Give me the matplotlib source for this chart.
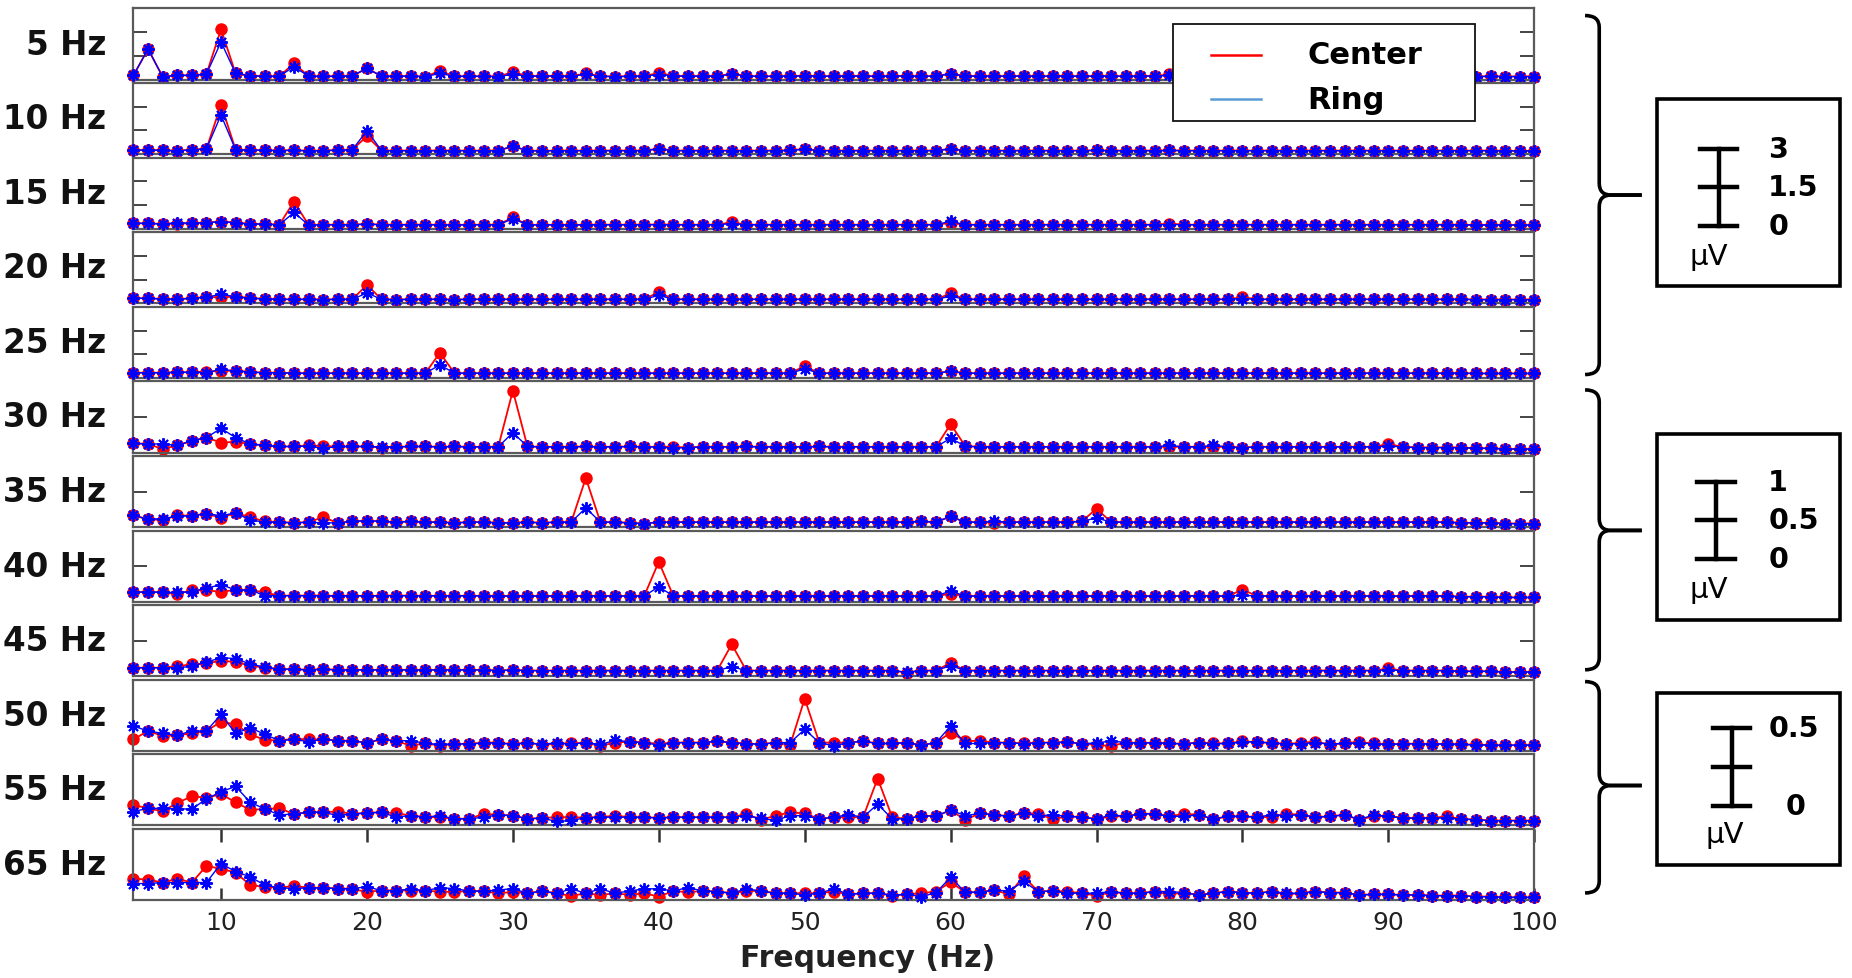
import matplotlib
matplotlib.use("Agg")
import matplotlib.pyplot as plt
from matplotlib.path import Path
from matplotlib.patches import PathPatch, Rectangle
from matplotlib.lines import Line2D

# ---------------- data ----------------
freqs = list(range(4, 101))
panel_labels = ["5 Hz", "10 Hz", "15 Hz", "20 Hz", "25 Hz", "30 Hz",
                "35 Hz", "40 Hz", "45 Hz", "50 Hz", "55 Hz", "65 Hz"]
xticks = [10, 20, 30, 40, 50, 60, 70, 80, 90, 100]
x_label = "Frequency (Hz)"
legend_labels = ["Center", "Ring"]
legend_colors = ["#ff0000", "#5b9bd5"]
group_ylim = [3.0, 3.0, 3.0, 3.0, 3.0, 1.0, 1.0, 1.0, 1.0, 0.5, 0.5, 0.5]
group_yticks = [[1, 2]] * 5 + [[0.5]] * 4 + [[]] * 3
scale_labels = [["3", "1.5", "0"], ["1", "0.5", "0"], ["0.5", "", "0"]]

c5 = [0.18, 1.29, 0.12, 0.18, 0.18, 0.23, 2.12, 0.26, 0.16, 0.14,
      0.14, 0.69, 0.14, 0.14, 0.14, 0.15, 0.48, 0.14, 0.14, 0.15,
      0.12, 0.37, 0.14, 0.14, 0.14, 0.13, 0.32, 0.15, 0.15, 0.15,
      0.14, 0.26, 0.14, 0.13, 0.14, 0.15, 0.28, 0.16, 0.14, 0.15,
      0.14, 0.25, 0.15, 0.14, 0.14, 0.15, 0.16, 0.15, 0.14, 0.15,
      0.15, 0.14, 0.15, 0.15, 0.14, 0.15, 0.25, 0.15, 0.15, 0.14,
      0.15, 0.15, 0.14, 0.15, 0.15, 0.14, 0.15, 0.15, 0.14, 0.15,
      0.15, 0.22, 0.15, 0.14, 0.15, 0.15, 0.14, 0.15, 0.15, 0.14,
      0.15, 0.15, 0.14, 0.15, 0.14, 0.14, 0.15, 0.14, 0.14, 0.14,
      0.14, 0.14, 0.13, 0.14, 0.13, 0.13, 0.13]
r5 = [0.18, 1.29, 0.12, 0.18, 0.18, 0.23, 1.59, 0.26, 0.16, 0.14,
      0.14, 0.55, 0.14, 0.14, 0.14, 0.15, 0.48, 0.14, 0.14, 0.15,
      0.13, 0.26, 0.14, 0.14, 0.14, 0.13, 0.22, 0.15, 0.15, 0.15,
      0.14, 0.22, 0.14, 0.13, 0.14, 0.15, 0.21, 0.16, 0.14, 0.15,
      0.14, 0.23, 0.15, 0.14, 0.14, 0.15, 0.15, 0.15, 0.14, 0.15,
      0.15, 0.14, 0.15, 0.15, 0.14, 0.15, 0.24, 0.15, 0.15, 0.14,
      0.15, 0.15, 0.14, 0.15, 0.15, 0.14, 0.15, 0.15, 0.14, 0.15,
      0.15, 0.18, 0.15, 0.14, 0.15, 0.15, 0.14, 0.15, 0.15, 0.14,
      0.15, 0.15, 0.14, 0.15, 0.14, 0.14, 0.15, 0.14, 0.14, 0.14,
      0.14, 0.14, 0.13, 0.14, 0.13, 0.13, 0.13]
c10 = [0.17, 0.17, 0.17, 0.14, 0.19, 0.22, 2.09, 0.19, 0.17, 0.17,
       0.15, 0.17, 0.14, 0.15, 0.17, 0.19, 0.76, 0.15, 0.15, 0.15,
       0.15, 0.15, 0.15, 0.15, 0.15, 0.15, 0.34, 0.15, 0.14, 0.15,
       0.15, 0.15, 0.15, 0.15, 0.15, 0.15, 0.24, 0.15, 0.15, 0.15,
       0.15, 0.15, 0.15, 0.15, 0.15, 0.16, 0.23, 0.15, 0.15, 0.15,
       0.15, 0.15, 0.15, 0.15, 0.15, 0.15, 0.23, 0.15, 0.15, 0.15,
       0.15, 0.15, 0.15, 0.15, 0.15, 0.15, 0.16, 0.15, 0.15, 0.15,
       0.15, 0.16, 0.15, 0.15, 0.15, 0.15, 0.15, 0.15, 0.15, 0.15,
       0.15, 0.15, 0.15, 0.15, 0.15, 0.15, 0.15, 0.15, 0.15, 0.15,
       0.15, 0.15, 0.15, 0.15, 0.14, 0.14, 0.14]
r10 = [0.17, 0.17, 0.17, 0.14, 0.19, 0.22, 1.65, 0.19, 0.17, 0.17,
       0.15, 0.17, 0.14, 0.15, 0.17, 0.19, 0.99, 0.15, 0.15, 0.15,
       0.15, 0.15, 0.15, 0.15, 0.15, 0.15, 0.33, 0.15, 0.14, 0.15,
       0.15, 0.15, 0.15, 0.15, 0.15, 0.15, 0.22, 0.15, 0.15, 0.15,
       0.15, 0.15, 0.15, 0.15, 0.15, 0.16, 0.21, 0.15, 0.15, 0.15,
       0.15, 0.15, 0.15, 0.15, 0.15, 0.15, 0.22, 0.15, 0.15, 0.15,
       0.15, 0.15, 0.15, 0.15, 0.15, 0.15, 0.16, 0.15, 0.15, 0.15,
       0.15, 0.16, 0.15, 0.15, 0.15, 0.15, 0.15, 0.15, 0.15, 0.15,
       0.15, 0.15, 0.15, 0.15, 0.15, 0.15, 0.15, 0.15, 0.15, 0.15,
       0.15, 0.15, 0.15, 0.15, 0.14, 0.14, 0.14]
c15 = [0.23, 0.23, 0.20, 0.22, 0.23, 0.26, 0.30, 0.26, 0.20, 0.20,
       0.17, 1.15, 0.16, 0.17, 0.17, 0.17, 0.20, 0.17, 0.17, 0.17,
       0.17, 0.17, 0.16, 0.17, 0.17, 0.17, 0.48, 0.17, 0.16, 0.17,
       0.16, 0.17, 0.17, 0.17, 0.17, 0.17, 0.18, 0.17, 0.17, 0.17,
       0.17, 0.28, 0.17, 0.17, 0.17, 0.17, 0.17, 0.17, 0.17, 0.17,
       0.17, 0.17, 0.17, 0.17, 0.17, 0.17, 0.25, 0.17, 0.17, 0.17,
       0.17, 0.17, 0.17, 0.17, 0.17, 0.17, 0.17, 0.17, 0.17, 0.17,
       0.17, 0.22, 0.17, 0.17, 0.17, 0.17, 0.17, 0.17, 0.17, 0.17,
       0.17, 0.17, 0.17, 0.17, 0.17, 0.17, 0.17, 0.17, 0.17, 0.17,
       0.17, 0.17, 0.16, 0.16, 0.16, 0.16, 0.16]
r15 = [0.23, 0.23, 0.20, 0.26, 0.23, 0.26, 0.30, 0.26, 0.20, 0.20,
       0.17, 0.69, 0.16, 0.17, 0.17, 0.17, 0.20, 0.17, 0.17, 0.17,
       0.17, 0.17, 0.16, 0.17, 0.17, 0.17, 0.42, 0.17, 0.16, 0.17,
       0.16, 0.17, 0.17, 0.17, 0.17, 0.17, 0.18, 0.17, 0.17, 0.17,
       0.17, 0.22, 0.17, 0.17, 0.17, 0.17, 0.17, 0.17, 0.17, 0.17,
       0.17, 0.17, 0.17, 0.17, 0.17, 0.17, 0.32, 0.17, 0.17, 0.17,
       0.17, 0.17, 0.17, 0.17, 0.17, 0.17, 0.17, 0.17, 0.17, 0.17,
       0.17, 0.18, 0.17, 0.17, 0.17, 0.17, 0.17, 0.17, 0.17, 0.17,
       0.17, 0.17, 0.17, 0.17, 0.17, 0.17, 0.17, 0.17, 0.17, 0.17,
       0.17, 0.17, 0.16, 0.16, 0.16, 0.16, 0.16]
c20 = [0.22, 0.21, 0.19, 0.17, 0.22, 0.26, 0.26, 0.28, 0.22, 0.19,
       0.17, 0.17, 0.17, 0.16, 0.17, 0.17, 0.78, 0.17, 0.16, 0.17,
       0.17, 0.17, 0.16, 0.17, 0.17, 0.17, 0.17, 0.17, 0.17, 0.17,
       0.17, 0.17, 0.17, 0.17, 0.17, 0.17, 0.48, 0.17, 0.17, 0.17,
       0.17, 0.17, 0.17, 0.17, 0.17, 0.17, 0.17, 0.17, 0.17, 0.17,
       0.17, 0.17, 0.17, 0.17, 0.17, 0.17, 0.42, 0.17, 0.17, 0.17,
       0.17, 0.17, 0.17, 0.17, 0.17, 0.17, 0.17, 0.17, 0.17, 0.17,
       0.17, 0.17, 0.17, 0.17, 0.17, 0.17, 0.26, 0.17, 0.17, 0.17,
       0.17, 0.17, 0.17, 0.17, 0.17, 0.17, 0.17, 0.17, 0.17, 0.17,
       0.17, 0.17, 0.16, 0.16, 0.16, 0.16, 0.16]
r20 = [0.22, 0.21, 0.19, 0.17, 0.22, 0.26, 0.38, 0.28, 0.22, 0.19,
       0.17, 0.17, 0.17, 0.16, 0.17, 0.17, 0.44, 0.17, 0.16, 0.17,
       0.17, 0.17, 0.16, 0.17, 0.17, 0.17, 0.17, 0.17, 0.17, 0.17,
       0.17, 0.17, 0.17, 0.17, 0.17, 0.17, 0.34, 0.17, 0.17, 0.17,
       0.17, 0.17, 0.17, 0.17, 0.17, 0.17, 0.17, 0.17, 0.17, 0.17,
       0.17, 0.17, 0.17, 0.17, 0.17, 0.17, 0.30, 0.17, 0.17, 0.17,
       0.17, 0.17, 0.17, 0.17, 0.17, 0.17, 0.17, 0.17, 0.17, 0.17,
       0.17, 0.17, 0.17, 0.17, 0.17, 0.17, 0.20, 0.17, 0.17, 0.17,
       0.17, 0.17, 0.17, 0.17, 0.17, 0.17, 0.17, 0.17, 0.17, 0.17,
       0.17, 0.17, 0.16, 0.16, 0.16, 0.16, 0.16]
c25 = [0.22, 0.22, 0.22, 0.24, 0.24, 0.27, 0.30, 0.30, 0.25, 0.22,
       0.22, 0.20, 0.20, 0.20, 0.20, 0.20, 0.20, 0.20, 0.20, 0.20,
       0.20, 1.06, 0.20, 0.20, 0.20, 0.20, 0.20, 0.20, 0.20, 0.20,
       0.20, 0.20, 0.20, 0.20, 0.20, 0.20, 0.20, 0.20, 0.20, 0.20,
       0.20, 0.20, 0.20, 0.20, 0.20, 0.20, 0.50, 0.20, 0.20, 0.20,
       0.20, 0.20, 0.20, 0.20, 0.20, 0.20, 0.28, 0.20, 0.20, 0.20,
       0.20, 0.20, 0.20, 0.20, 0.20, 0.20, 0.20, 0.20, 0.20, 0.20,
       0.20, 0.20, 0.20, 0.20, 0.20, 0.20, 0.20, 0.20, 0.20, 0.20,
       0.20, 0.20, 0.20, 0.20, 0.20, 0.20, 0.20, 0.20, 0.20, 0.20,
       0.20, 0.20, 0.19, 0.19, 0.19, 0.19, 0.19]
r25 = [0.22, 0.22, 0.22, 0.24, 0.24, 0.22, 0.36, 0.30, 0.25, 0.22,
       0.22, 0.20, 0.20, 0.20, 0.20, 0.20, 0.20, 0.20, 0.20, 0.20,
       0.20, 0.55, 0.20, 0.20, 0.20, 0.20, 0.20, 0.20, 0.20, 0.20,
       0.20, 0.20, 0.20, 0.20, 0.20, 0.20, 0.20, 0.20, 0.20, 0.20,
       0.20, 0.20, 0.20, 0.20, 0.20, 0.20, 0.38, 0.20, 0.20, 0.20,
       0.20, 0.20, 0.20, 0.20, 0.20, 0.20, 0.28, 0.20, 0.20, 0.20,
       0.20, 0.20, 0.20, 0.20, 0.20, 0.20, 0.20, 0.20, 0.20, 0.20,
       0.20, 0.20, 0.20, 0.20, 0.20, 0.20, 0.20, 0.20, 0.20, 0.20,
       0.20, 0.20, 0.20, 0.20, 0.20, 0.20, 0.20, 0.20, 0.20, 0.20,
       0.20, 0.20, 0.19, 0.19, 0.19, 0.19, 0.19]
c30 = [0.13, 0.12, 0.05, 0.10, 0.165, 0.21, 0.14, 0.15, 0.12, 0.10,
       0.085, 0.085, 0.10, 0.09, 0.085, 0.085, 0.085, 0.07, 0.08, 0.085,
       0.085, 0.08, 0.085, 0.08, 0.08, 0.08, 0.87, 0.085, 0.08, 0.08,
       0.08, 0.085, 0.08, 0.08, 0.085, 0.08, 0.08, 0.08, 0.07, 0.08,
       0.08, 0.08, 0.085, 0.08, 0.08, 0.08, 0.08, 0.085, 0.08, 0.08,
       0.08, 0.08, 0.08, 0.08, 0.08, 0.08, 0.40, 0.09, 0.08, 0.08,
       0.08, 0.08, 0.08, 0.08, 0.08, 0.08, 0.08, 0.08, 0.08, 0.08,
       0.08, 0.08, 0.08, 0.08, 0.08, 0.08, 0.07, 0.08, 0.08, 0.08,
       0.08, 0.08, 0.08, 0.08, 0.08, 0.08, 0.12, 0.08, 0.07, 0.07,
       0.07, 0.07, 0.06, 0.06, 0.05, 0.05, 0.05]
r30 = [0.13, 0.12, 0.12, 0.10, 0.165, 0.21, 0.34, 0.21, 0.12, 0.10,
       0.085, 0.085, 0.09, 0.06, 0.085, 0.085, 0.085, 0.08, 0.08, 0.085,
       0.085, 0.08, 0.085, 0.08, 0.08, 0.08, 0.28, 0.085, 0.08, 0.08,
       0.08, 0.085, 0.08, 0.08, 0.085, 0.08, 0.08, 0.06, 0.07, 0.08,
       0.08, 0.08, 0.085, 0.08, 0.08, 0.08, 0.08, 0.085, 0.08, 0.08,
       0.08, 0.08, 0.08, 0.08, 0.08, 0.08, 0.20, 0.09, 0.08, 0.08,
       0.08, 0.08, 0.08, 0.08, 0.08, 0.08, 0.08, 0.08, 0.08, 0.08,
       0.08, 0.10, 0.08, 0.08, 0.10, 0.08, 0.07, 0.08, 0.08, 0.08,
       0.08, 0.08, 0.08, 0.08, 0.08, 0.08, 0.09, 0.08, 0.07, 0.07,
       0.07, 0.07, 0.06, 0.06, 0.05, 0.05, 0.05]
c35 = [0.165, 0.11, 0.10, 0.165, 0.16, 0.19, 0.13, 0.20, 0.14, 0.08,
       0.07, 0.06, 0.07, 0.14, 0.06, 0.08, 0.09, 0.08, 0.07, 0.08,
       0.07, 0.07, 0.06, 0.07, 0.07, 0.06, 0.06, 0.07, 0.06, 0.07,
       0.07, 0.69, 0.07, 0.07, 0.06, 0.05, 0.07, 0.07, 0.07, 0.07,
       0.07, 0.07, 0.07, 0.07, 0.07, 0.07, 0.07, 0.07, 0.07, 0.07,
       0.07, 0.07, 0.07, 0.07, 0.08, 0.07, 0.15, 0.07, 0.07, 0.06,
       0.07, 0.07, 0.07, 0.07, 0.07, 0.08, 0.26, 0.07, 0.07, 0.07,
       0.07, 0.07, 0.07, 0.07, 0.07, 0.07, 0.07, 0.07, 0.07, 0.07,
       0.07, 0.07, 0.07, 0.07, 0.07, 0.07, 0.07, 0.07, 0.07, 0.07,
       0.07, 0.06, 0.06, 0.06, 0.05, 0.05, 0.05]
r35 = [0.165, 0.11, 0.12, 0.15, 0.16, 0.19, 0.16, 0.20, 0.10, 0.07,
       0.07, 0.06, 0.07, 0.06, 0.06, 0.08, 0.09, 0.08, 0.07, 0.08,
       0.07, 0.07, 0.06, 0.07, 0.07, 0.06, 0.06, 0.07, 0.06, 0.07,
       0.07, 0.27, 0.07, 0.07, 0.06, 0.05, 0.07, 0.07, 0.07, 0.07,
       0.07, 0.07, 0.07, 0.07, 0.07, 0.07, 0.07, 0.07, 0.07, 0.07,
       0.07, 0.07, 0.07, 0.07, 0.08, 0.07, 0.15, 0.07, 0.07, 0.08,
       0.07, 0.07, 0.07, 0.07, 0.07, 0.08, 0.13, 0.07, 0.07, 0.07,
       0.07, 0.07, 0.07, 0.07, 0.07, 0.07, 0.07, 0.07, 0.07, 0.07,
       0.07, 0.07, 0.07, 0.07, 0.07, 0.07, 0.07, 0.07, 0.07, 0.07,
       0.07, 0.06, 0.06, 0.06, 0.05, 0.05, 0.05]
c40 = [0.13, 0.14, 0.13, 0.11, 0.16, 0.16, 0.14, 0.165, 0.165, 0.13,
       0.085, 0.085, 0.085, 0.085, 0.08, 0.085, 0.08, 0.085, 0.085, 0.085,
       0.08, 0.085, 0.08, 0.085, 0.08, 0.08, 0.08, 0.08, 0.08, 0.08,
       0.08, 0.08, 0.08, 0.08, 0.08, 0.08, 0.56, 0.08, 0.08, 0.08,
       0.08, 0.08, 0.08, 0.08, 0.08, 0.08, 0.08, 0.08, 0.08, 0.08,
       0.08, 0.08, 0.08, 0.08, 0.08, 0.08, 0.11, 0.08, 0.08, 0.08,
       0.08, 0.08, 0.08, 0.08, 0.08, 0.08, 0.08, 0.08, 0.08, 0.08,
       0.08, 0.08, 0.08, 0.08, 0.08, 0.08, 0.17, 0.08, 0.08, 0.08,
       0.08, 0.08, 0.08, 0.08, 0.08, 0.08, 0.08, 0.08, 0.08, 0.08,
       0.08, 0.07, 0.07, 0.07, 0.06, 0.06, 0.06]
r40 = [0.13, 0.14, 0.13, 0.13, 0.14, 0.19, 0.24, 0.165, 0.165, 0.085,
       0.085, 0.085, 0.085, 0.085, 0.08, 0.085, 0.08, 0.085, 0.085, 0.085,
       0.08, 0.085, 0.08, 0.085, 0.08, 0.08, 0.08, 0.08, 0.08, 0.08,
       0.08, 0.08, 0.08, 0.08, 0.08, 0.08, 0.21, 0.08, 0.08, 0.08,
       0.08, 0.08, 0.08, 0.08, 0.08, 0.08, 0.08, 0.08, 0.08, 0.08,
       0.08, 0.08, 0.08, 0.08, 0.08, 0.08, 0.15, 0.08, 0.08, 0.08,
       0.08, 0.08, 0.08, 0.08, 0.08, 0.08, 0.08, 0.08, 0.08, 0.08,
       0.08, 0.08, 0.08, 0.08, 0.08, 0.08, 0.09, 0.08, 0.08, 0.08,
       0.08, 0.08, 0.08, 0.08, 0.08, 0.08, 0.08, 0.08, 0.08, 0.08,
       0.08, 0.07, 0.07, 0.07, 0.06, 0.06, 0.06]
c45 = [0.12, 0.12, 0.12, 0.14, 0.17, 0.18, 0.22, 0.20, 0.15, 0.12,
       0.10, 0.10, 0.09, 0.10, 0.09, 0.09, 0.09, 0.09, 0.09, 0.09,
       0.09, 0.09, 0.09, 0.09, 0.09, 0.08, 0.09, 0.08, 0.08, 0.08,
       0.08, 0.08, 0.08, 0.08, 0.08, 0.08, 0.08, 0.08, 0.08, 0.08,
       0.08, 0.45, 0.08, 0.08, 0.08, 0.08, 0.08, 0.08, 0.08, 0.08,
       0.08, 0.08, 0.08, 0.05, 0.08, 0.08, 0.19, 0.08, 0.08, 0.08,
       0.08, 0.08, 0.08, 0.08, 0.08, 0.08, 0.08, 0.08, 0.08, 0.08,
       0.08, 0.08, 0.08, 0.08, 0.08, 0.08, 0.08, 0.08, 0.08, 0.08,
       0.08, 0.08, 0.08, 0.08, 0.08, 0.08, 0.11, 0.08, 0.08, 0.08,
       0.08, 0.07, 0.07, 0.07, 0.06, 0.06, 0.06]
r45 = [0.12, 0.12, 0.12, 0.12, 0.14, 0.20, 0.26, 0.25, 0.17, 0.13,
       0.10, 0.10, 0.09, 0.10, 0.09, 0.09, 0.09, 0.09, 0.09, 0.09,
       0.09, 0.09, 0.09, 0.09, 0.09, 0.08, 0.09, 0.08, 0.08, 0.08,
       0.08, 0.08, 0.08, 0.08, 0.08, 0.08, 0.08, 0.08, 0.08, 0.08,
       0.08, 0.135, 0.08, 0.08, 0.08, 0.08, 0.08, 0.08, 0.08, 0.08,
       0.08, 0.08, 0.08, 0.06, 0.08, 0.08, 0.15, 0.08, 0.08, 0.08,
       0.08, 0.08, 0.08, 0.08, 0.08, 0.08, 0.08, 0.08, 0.08, 0.08,
       0.08, 0.08, 0.08, 0.08, 0.08, 0.08, 0.08, 0.08, 0.08, 0.08,
       0.08, 0.08, 0.08, 0.08, 0.08, 0.08, 0.09, 0.08, 0.08, 0.08,
       0.08, 0.07, 0.07, 0.07, 0.06, 0.06, 0.06]
c50 = [0.081, 0.14, 0.105, 0.11, 0.123, 0.14, 0.205, 0.186, 0.116, 0.077,
       0.072, 0.086, 0.08, 0.081, 0.072, 0.07, 0.058, 0.081, 0.07, 0.037,
       0.053, 0.037, 0.049, 0.049, 0.058, 0.058, 0.047, 0.058, 0.042, 0.05,
       0.052, 0.058, 0.035, 0.058, 0.065, 0.058, 0.05, 0.058, 0.058, 0.058,
       0.068, 0.058, 0.051, 0.047, 0.058, 0.04, 0.367, 0.058, 0.058, 0.058,
       0.068, 0.052, 0.052, 0.058, 0.04, 0.058, 0.128, 0.07, 0.07, 0.058,
       0.058, 0.052, 0.058, 0.058, 0.062, 0.051, 0.042, 0.035, 0.058, 0.055,
       0.058, 0.052, 0.05, 0.058, 0.055, 0.052, 0.068, 0.06, 0.055, 0.05,
       0.055, 0.065, 0.042, 0.055, 0.062, 0.052, 0.045, 0.05, 0.05, 0.048,
       0.048, 0.045, 0.045, 0.04, 0.04, 0.04, 0.042]
r50 = [0.174, 0.14, 0.123, 0.11, 0.14, 0.14, 0.256, 0.123, 0.163, 0.116,
       0.072, 0.08, 0.065, 0.081, 0.072, 0.07, 0.058, 0.081, 0.07, 0.072,
       0.053, 0.045, 0.049, 0.049, 0.055, 0.055, 0.047, 0.058, 0.045, 0.058,
       0.047, 0.058, 0.045, 0.074, 0.065, 0.058, 0.04, 0.058, 0.058, 0.058,
       0.068, 0.058, 0.051, 0.047, 0.058, 0.058, 0.151, 0.058, 0.035, 0.058,
       0.068, 0.052, 0.052, 0.058, 0.04, 0.058, 0.174, 0.052, 0.052, 0.058,
       0.058, 0.05, 0.058, 0.058, 0.062, 0.051, 0.055, 0.07, 0.058, 0.055,
       0.058, 0.052, 0.05, 0.058, 0.05, 0.052, 0.062, 0.065, 0.055, 0.05,
       0.05, 0.058, 0.05, 0.052, 0.055, 0.05, 0.045, 0.05, 0.05, 0.048,
       0.05, 0.045, 0.042, 0.04, 0.04, 0.04, 0.04]
c55 = [0.144, 0.12, 0.10, 0.158, 0.205, 0.195, 0.22, 0.163, 0.109, 0.116,
       0.12, 0.081, 0.093, 0.093, 0.098, 0.081, 0.088, 0.093, 0.086, 0.07,
       0.058, 0.058, 0.047, 0.047, 0.081, 0.074, 0.07, 0.047, 0.052, 0.058,
       0.058, 0.055, 0.058, 0.069, 0.058, 0.058, 0.053, 0.058, 0.058, 0.058,
       0.058, 0.058, 0.081, 0.039, 0.069, 0.092, 0.085, 0.046, 0.058, 0.058,
       0.058, 0.33, 0.058, 0.046, 0.069, 0.065, 0.108, 0.039, 0.085, 0.076,
       0.064, 0.091, 0.08, 0.045, 0.064, 0.059, 0.045, 0.064, 0.064, 0.082,
       0.082, 0.064, 0.082, 0.075, 0.045, 0.064, 0.064, 0.059, 0.059, 0.082,
       0.075, 0.059, 0.064, 0.075, 0.041, 0.064, 0.068, 0.052, 0.052, 0.052,
       0.064, 0.045, 0.041, 0.034, 0.034, 0.034, 0.034]
r55 = [0.098, 0.12, 0.12, 0.116, 0.116, 0.186, 0.237, 0.274, 0.163, 0.116,
       0.074, 0.081, 0.093, 0.093, 0.07, 0.081, 0.088, 0.093, 0.058, 0.07,
       0.058, 0.07, 0.047, 0.047, 0.058, 0.074, 0.07, 0.047, 0.052, 0.028,
       0.035, 0.055, 0.058, 0.058, 0.058, 0.058, 0.053, 0.058, 0.058, 0.058,
       0.058, 0.058, 0.07, 0.05, 0.035, 0.069, 0.069, 0.046, 0.058, 0.076,
       0.058, 0.15, 0.046, 0.046, 0.069, 0.065, 0.108, 0.069, 0.085, 0.076,
       0.064, 0.085, 0.068, 0.075, 0.064, 0.059, 0.045, 0.075, 0.064, 0.082,
       0.082, 0.064, 0.064, 0.075, 0.045, 0.064, 0.064, 0.059, 0.075, 0.07,
       0.075, 0.059, 0.064, 0.075, 0.041, 0.075, 0.064, 0.052, 0.052, 0.052,
       0.052, 0.045, 0.041, 0.034, 0.034, 0.034, 0.034]
c65 = [0.15, 0.144, 0.123, 0.15, 0.123, 0.24, 0.22, 0.193, 0.105, 0.093,
       0.086, 0.10, 0.086, 0.086, 0.081, 0.077, 0.058, 0.067, 0.067, 0.067,
       0.067, 0.058, 0.058, 0.063, 0.063, 0.047, 0.058, 0.047, 0.063, 0.047,
       0.03, 0.047, 0.036, 0.048, 0.036, 0.048, 0.024, 0.064, 0.055, 0.064,
       0.06, 0.048, 0.064, 0.064, 0.048, 0.048, 0.048, 0.048, 0.06, 0.04,
       0.048, 0.048, 0.031, 0.04, 0.048, 0.06, 0.126, 0.055, 0.055, 0.07,
       0.04, 0.167, 0.06, 0.064, 0.06, 0.048, 0.031, 0.055, 0.048, 0.048,
       0.06, 0.04, 0.052, 0.036, 0.048, 0.06, 0.052, 0.048, 0.06, 0.04,
       0.048, 0.06, 0.052, 0.052, 0.036, 0.04, 0.04, 0.036, 0.036, 0.031,
       0.031, 0.031, 0.024, 0.024, 0.019, 0.019, 0.019]
r65 = [0.116, 0.116, 0.123, 0.123, 0.123, 0.123, 0.256, 0.20, 0.163, 0.105,
       0.086, 0.081, 0.086, 0.086, 0.081, 0.081, 0.093, 0.067, 0.067, 0.077,
       0.067, 0.086, 0.081, 0.063, 0.063, 0.07, 0.081, 0.047, 0.063, 0.047,
       0.079, 0.047, 0.079, 0.048, 0.064, 0.079, 0.079, 0.064, 0.088, 0.064,
       0.06, 0.048, 0.079, 0.064, 0.048, 0.048, 0.036, 0.048, 0.079, 0.04,
       0.048, 0.048, 0.036, 0.04, 0.024, 0.052, 0.16, 0.055, 0.055, 0.07,
       0.064, 0.131, 0.06, 0.064, 0.048, 0.048, 0.048, 0.06, 0.048, 0.048,
       0.06, 0.06, 0.052, 0.036, 0.048, 0.06, 0.052, 0.048, 0.06, 0.048,
       0.048, 0.06, 0.052, 0.052, 0.036, 0.04, 0.04, 0.036, 0.036, 0.031,
       0.031, 0.031, 0.024, 0.024, 0.019, 0.019, 0.019]

center = [c5, c10, c15, c20, c25, c30, c35, c40, c45, c50, c55, c65]
ring = [r5, r10, r15, r20, r25, r30, r35, r40, r45, r50, r55, r65]

# ---------------- layout helpers (reference px, 1568x829 view) ----------------
W, H = 1568.0, 829.0
def fx(x):
    return x / W
def fy(y):
    return 1.0 - y / H

fig = plt.figure(figsize=(18.52, 9.79), dpi=100)

left, right = fx(113), fx(1299)
top, bottom = fy(8), fy(763)
n = len(panel_labels)
gap = 0.0035
ph = (top - bottom - gap * (n - 1)) / n

frame_col = "#5a5a5a"
star = (8, 2, 0)
for i in range(n):
    y0 = top - (i + 1) * ph - i * gap
    ax = fig.add_axes([left, y0, right - left, ph])
    ax.plot(freqs, center[i], color="#ff0000", lw=1.3, marker="o", ms=8,
            mfc="#ff0000", mec="#ff0000", zorder=2, clip_on=False)
    ax.plot(freqs, ring[i], color="#0000ff", lw=1.0, marker=star, ms=9,
            mfc="#0000ff", mec="#0000ff", mew=1.4, zorder=3, clip_on=False)
    ax.set_xlim(4, 100)
    ax.set_ylim(0, group_ylim[i])
    for s in ax.spines.values():
        s.set_color(frame_col)
        s.set_linewidth(1.6)
    ax.set_yticks(group_yticks[i])
    ax.tick_params(axis="y", direction="in", left=True, right=True,
                   labelleft=False, length=10, width=1.4, color="#444444")
    if i < n - 1:
        ax.set_xticks([])
    else:
        ax.set_xticks(xticks)
        ax.tick_params(axis="x", direction="in", top=True, bottom=True,
                       length=9, width=1.8, color="#333333", labelsize=18,
                       labelcolor="#222222", pad=7)
    fig.text(fx(90), y0 + ph * 0.5, panel_labels[i], ha="right", va="center",
             fontsize=23.5, fontweight="bold", color="#111111")

fig.text(fx(735), fy(812), x_label, ha="center", va="center", fontsize=21.5,
         fontweight="bold", color="#222222")

# ---------------- legend (figure level, spans two panels) ----------------
fig.add_artist(Rectangle((fx(993), fy(103)), fx(1249) - fx(993),
                         fy(21) - fy(103), facecolor="white",
                         edgecolor="#111111", lw=1.3,
                         transform=fig.transFigure, zorder=10))
for lab, col, yy in zip(legend_labels, legend_colors, (47, 85)):
    fig.add_artist(Line2D([fx(1025), fx(1068)], [fy(yy), fy(yy)], color=col,
                          lw=1.8, transform=fig.transFigure, zorder=11))
    fig.text(fx(1107), fy(yy), lab, ha="left", va="center", fontsize=22,
             fontweight="bold", color="black", zorder=11)

# ---------------- braces ----------------
def brace(ytop, ybot, ymid, x0=1342, xs=1354, xt=1390, r=10):
    for yend, sgn in ((ytop, 1), (ybot, -1)):
        verts = [(x0, yend), (xs, yend), (xs, yend + sgn * r),
                 (xs, ymid - sgn * r), (xs, ymid), (xs + r, ymid), (xt, ymid)]
        codes = [Path.MOVETO, Path.CURVE3, Path.CURVE3, Path.LINETO,
                 Path.CURVE3, Path.CURVE3, Path.LINETO]
        verts = [(fx(a), fy(b)) for a, b in verts]
        fig.add_artist(PathPatch(Path(verts, codes), fill=False, lw=2.6,
                                 edgecolor="black", transform=fig.transFigure,
                                 capstyle="butt", joinstyle="round"))

brace(14, 318, 166)
brace(331, 568, 450)
brace(578, 757, 666)

# ---------------- scale boxes ----------------
boxes = [(85, 243), (368, 526), (588, 733)]
bars = [(1455, 127, 192), (1453, 409, 474), (1466, 617, 683)]
label_x = [(1497, 1497, 1497), (1497, 1497, 1497), (1497, 1497, 1512)]
uv_pos = [(1447, 218), (1447, 500), (1460, 707)]
for k in range(3):
    yb0, yb1 = boxes[k]
    fig.add_artist(Rectangle((fx(1403), fy(yb1)), fx(1558) - fx(1403),
                             fy(yb0) - fy(yb1), fill=False, lw=2.6,
                             edgecolor="black", transform=fig.transFigure))
    bx, by0, by1 = bars[k]
    bm = 0.5 * (by0 + by1)
    fig.add_artist(Line2D([fx(bx), fx(bx)], [fy(by0), fy(by1)], lw=3.2,
                          color="black", transform=fig.transFigure))
    for yy in (by0, bm, by1):
        fig.add_artist(Line2D([fx(bx - 16), fx(bx + 16)], [fy(yy), fy(yy)],
                              lw=3.2, color="black", transform=fig.transFigure))
    for j, (lab, yy) in enumerate(zip(scale_labels[k], (by0, bm, by1))):
        if lab:
            fig.text(fx(label_x[k][j]), fy(yy), lab, ha="left", va="center",
                     fontsize=20.5, fontweight="bold", color="black")
    fig.text(fx(uv_pos[k][0]), fy(uv_pos[k][1]), "\u03bcV", ha="center",
             va="center", fontsize=21, color="black")

fig.savefig("out.png", dpi=100)
